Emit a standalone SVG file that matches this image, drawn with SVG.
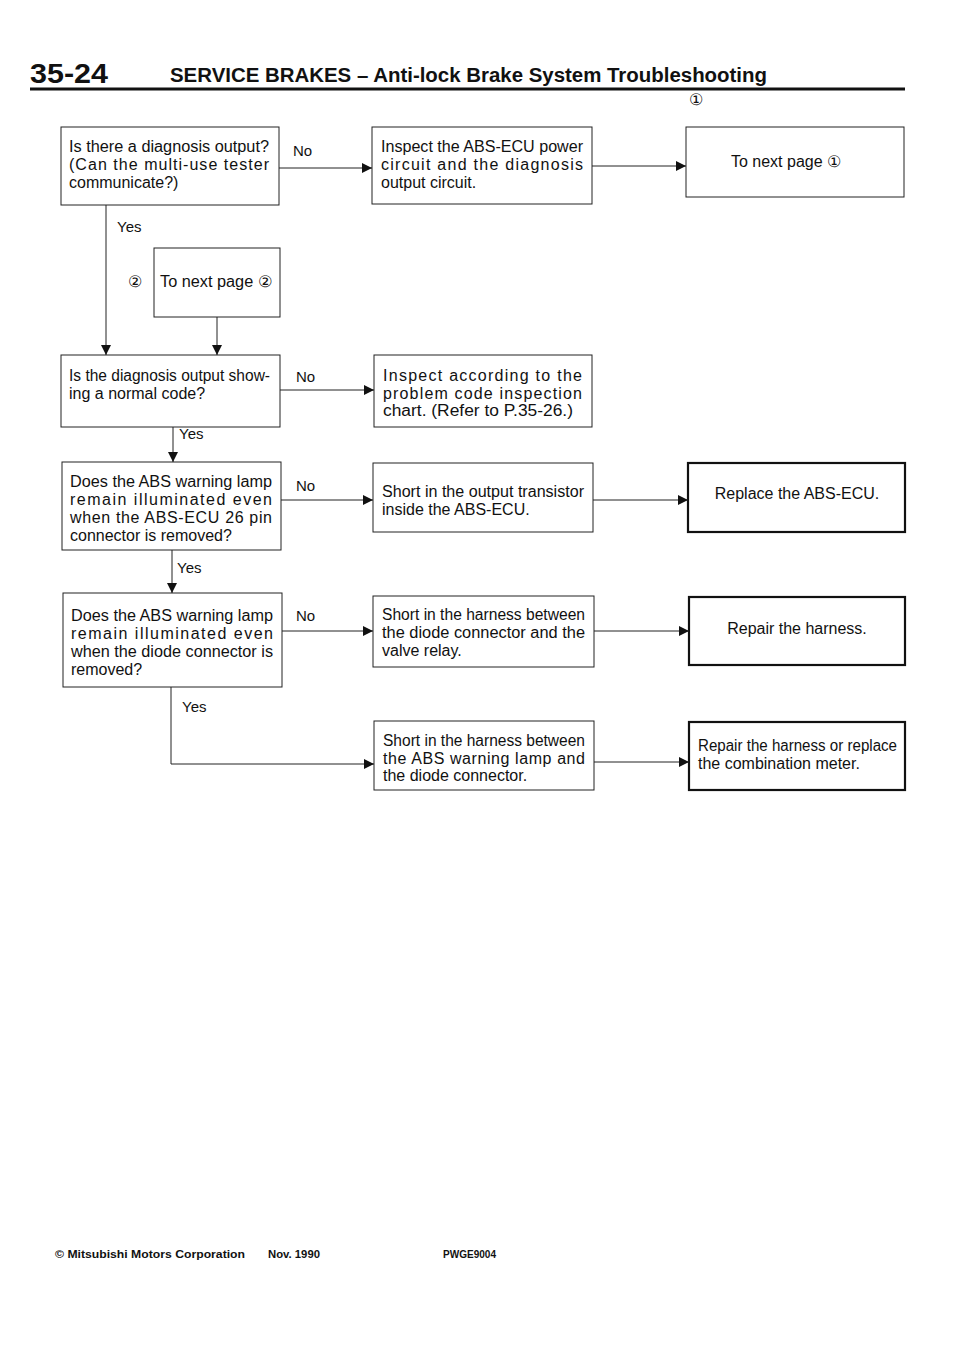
<svg xmlns="http://www.w3.org/2000/svg" width="960" height="1358" viewBox="0 0 960 1358">
<style>
.bx{fill:none;stroke:#222;stroke-width:1}
.bk{fill:none;stroke:#111;stroke-width:2.2}
.t{font-family:"Liberation Sans",Arial,sans-serif;font-size:16px;fill:#111}
.l{font-family:"Liberation Sans",Arial,sans-serif;font-size:15px;fill:#111}
.c{text-anchor:middle}
.ln{fill:none;stroke:#222;stroke-width:1}
.hd{font-family:"Liberation Sans",Arial,sans-serif;font-weight:bold;fill:#111}
.ft{font-family:"Liberation Sans",Arial,sans-serif;font-weight:bold;font-size:11px;fill:#111}
</style>
<defs>
<marker id="ah" viewBox="0 0 10 10" refX="10" refY="5" markerWidth="10" markerHeight="10" markerUnits="userSpaceOnUse" orient="auto">
<path d="M0,0 L10,5 L0,10 z" fill="#111"/>
</marker>
</defs>
<rect width="960" height="1358" fill="#fff"/>
<g id="header">
<text class="hd" x="30" y="83" font-size="28" textLength="78" lengthAdjust="spacingAndGlyphs">35-24</text>
<text class="hd" x="170" y="82" font-size="20" textLength="597" lengthAdjust="spacingAndGlyphs">SERVICE BRAKES – Anti-lock Brake System Troubleshooting</text>
<line x1="30" y1="89" x2="905" y2="89" stroke="#111" stroke-width="3"/>
</g>
<g id="n1">
<rect class="bx" x="61" y="127" width="218" height="78"/>
<text class="t" x="69" y="152" textLength="200" lengthAdjust="spacingAndGlyphs">Is there a diagnosis output?</text>
<text class="t" x="69" y="170" textLength="200" lengthAdjust="spacing">(Can the multi-use tester</text>
<text class="t" x="69" y="188">communicate?)</text>
</g>
<g id="n2">
<rect class="bx" x="372" y="127" width="220" height="77"/>
<text class="t" x="381" y="152" textLength="202" lengthAdjust="spacingAndGlyphs">Inspect the ABS-ECU power</text>
<text class="t" x="381" y="170" textLength="202" lengthAdjust="spacing">circuit and the diagnosis</text>
<text class="t" x="381" y="188">output circuit.</text>
</g>
<g id="n3">
<text class="t" x="689" y="105" font-size="13">①</text>
<rect class="bx" x="686" y="127" width="218" height="70"/>
<text class="t c" x="786" y="167" font-size="15.5">To next page ①</text>
</g>
<g id="n4">
<text class="t" x="128" y="287" font-size="14">②</text>
<rect class="bx" x="154" y="248" width="126" height="69"/>
<text class="t" x="160" y="287" textLength="112" lengthAdjust="spacingAndGlyphs">To next page ②</text>
</g>
<g id="n5">
<rect class="bx" x="61" y="355" width="219" height="72"/>
<text class="t" x="69" y="381" textLength="201" lengthAdjust="spacingAndGlyphs">Is the diagnosis output show-</text>
<text class="t" x="69" y="399">ing a normal code?</text>
</g>
<g id="n6">
<rect class="bx" x="374" y="355" width="218" height="72"/>
<text class="t" x="383" y="381" textLength="199" lengthAdjust="spacing">Inspect according to the</text>
<text class="t" x="383" y="399" textLength="199" lengthAdjust="spacing">problem code inspection</text>
<text class="t" x="383" y="416" font-size="15" textLength="190" lengthAdjust="spacingAndGlyphs">chart. (Refer to P.35-26.)</text>
</g>
<g id="n7">
<rect class="bx" x="62" y="462" width="219" height="88"/>
<text class="t" x="70" y="487" textLength="202" lengthAdjust="spacingAndGlyphs">Does the ABS warning lamp</text>
<text class="t" x="70" y="505" textLength="202" lengthAdjust="spacing">remain illuminated even</text>
<text class="t" x="70" y="523" textLength="202" lengthAdjust="spacing">when the ABS-ECU 26 pin</text>
<text class="t" x="70" y="541">connector is removed?</text>
</g>
<g id="n8">
<rect class="bx" x="373" y="463" width="220" height="69"/>
<text class="t" x="382" y="497" textLength="202" lengthAdjust="spacingAndGlyphs">Short in the output transistor</text>
<text class="t" x="382" y="515">inside the ABS-ECU.</text>
</g>
<g id="n9">
<rect class="bk" x="688" y="463" width="217" height="69"/>
<text class="t c" x="797" y="499">Replace the ABS-ECU.</text>
</g>
<g id="n10">
<rect class="bx" x="63" y="593" width="219" height="94"/>
<text class="t" x="71" y="621" textLength="202" lengthAdjust="spacingAndGlyphs">Does the ABS warning lamp</text>
<text class="t" x="71" y="639" textLength="202" lengthAdjust="spacing">remain illuminated even</text>
<text class="t" x="71" y="657" textLength="202" lengthAdjust="spacingAndGlyphs">when the diode connector is</text>
<text class="t" x="71" y="675">removed?</text>
</g>
<g id="n11">
<rect class="bx" x="373" y="596" width="221" height="71"/>
<text class="t" x="382" y="620" textLength="203" lengthAdjust="spacingAndGlyphs">Short in the harness between</text>
<text class="t" x="382" y="638" textLength="203" lengthAdjust="spacingAndGlyphs">the diode connector and the</text>
<text class="t" x="382" y="656">valve relay.</text>
</g>
<g id="n12">
<rect class="bk" x="689" y="597" width="216" height="68"/>
<text class="t c" x="797" y="634" font-size="15">Repair the harness.</text>
</g>
<g id="n13">
<rect class="bx" x="374" y="721" width="220" height="69"/>
<text class="t" x="383" y="746" textLength="202" lengthAdjust="spacingAndGlyphs">Short in the harness between</text>
<text class="t" x="383" y="764" textLength="202" lengthAdjust="spacing">the ABS warning lamp and</text>
<text class="t" x="383" y="781">the diode connector.</text>
</g>
<g id="n14">
<rect class="bk" x="689" y="722" width="216" height="68"/>
<text class="t" x="698" y="751" textLength="199" lengthAdjust="spacingAndGlyphs">Repair the harness or replace</text>
<text class="t" x="698" y="769">the combination meter.</text>
</g>
<g id="connectors">
<path class="ln" d="M279,168 H372" marker-end="url(#ah)"/>
<text class="l" x="293" y="156">No</text>
<path class="ln" d="M592,166 H686" marker-end="url(#ah)"/>
<path class="ln" d="M106,205 V355" marker-end="url(#ah)"/>
<text class="l" x="117" y="232">Yes</text>
<path class="ln" d="M217,317 V355" marker-end="url(#ah)"/>
<path class="ln" d="M280,390 H374" marker-end="url(#ah)"/>
<text class="l" x="296" y="382">No</text>
<path class="ln" d="M173,427 V462" marker-end="url(#ah)"/>
<text class="l" x="179" y="439">Yes</text>
<path class="ln" d="M281,500 H373" marker-end="url(#ah)"/>
<text class="l" x="296" y="491">No</text>
<path class="ln" d="M593,500 H688" marker-end="url(#ah)"/>
<path class="ln" d="M172,550 V593" marker-end="url(#ah)"/>
<text class="l" x="177" y="573">Yes</text>
<path class="ln" d="M282,631 H373" marker-end="url(#ah)"/>
<text class="l" x="296" y="621">No</text>
<path class="ln" d="M594,631 H689" marker-end="url(#ah)"/>
<path class="ln" d="M171,687 V764 H374" marker-end="url(#ah)"/>
<text class="l" x="182" y="712">Yes</text>
<path class="ln" d="M594,762 H689" marker-end="url(#ah)"/>
</g>
<g id="footer">
<text class="ft" x="55" y="1258" textLength="190" lengthAdjust="spacingAndGlyphs">© Mitsubishi Motors Corporation</text>
<text class="ft" x="268" y="1258" textLength="52" lengthAdjust="spacingAndGlyphs">Nov. 1990</text>
<text class="ft" x="443" y="1258" textLength="53" lengthAdjust="spacingAndGlyphs">PWGE9004</text>
</g>
</svg>
